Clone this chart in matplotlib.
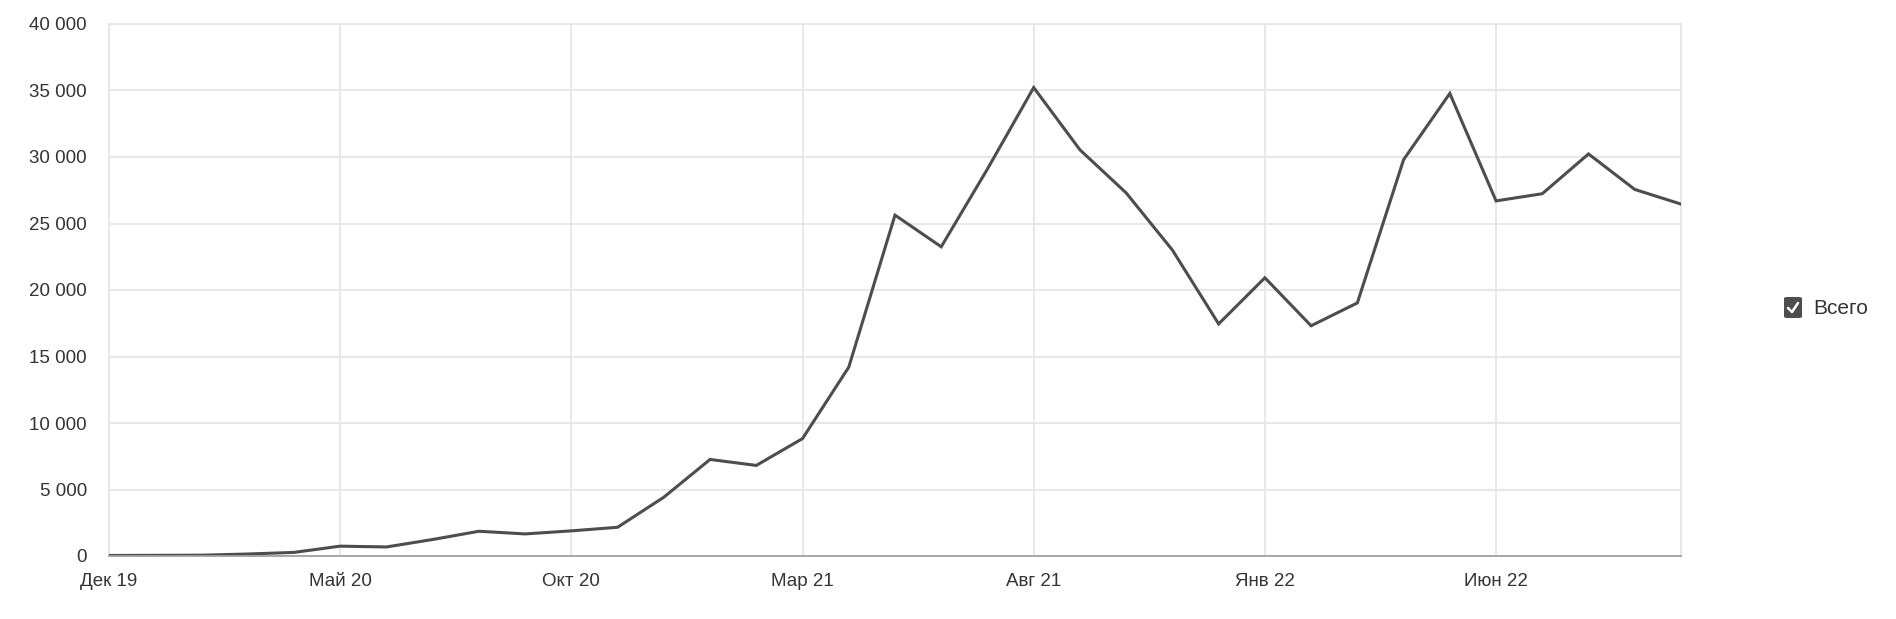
import matplotlib
matplotlib.use("Agg")
import matplotlib.pyplot as plt
from matplotlib.lines import Line2D
from matplotlib.patches import FancyBboxPatch
from matplotlib.ticker import FuncFormatter

# monthly values, Dec 2019 .. Oct 2022
months = [
    "Дек 19", "Янв 20", "Фев 20", "Мар 20", "Апр 20", "Май 20", "Июн 20", "Июл 20",
    "Авг 20", "Сен 20", "Окт 20", "Ноя 20", "Дек 20", "Янв 21", "Фев 21", "Мар 21",
    "Апр 21", "Май 21", "Июн 21", "Июл 21", "Авг 21", "Сен 21", "Окт 21", "Ноя 21",
    "Дек 21", "Янв 22", "Фев 22", "Мар 22", "Апр 22", "Май 22", "Июн 22", "Июл 22",
    "Авг 22", "Сен 22", "Окт 22",
]
totals = [
    40, 50, 60, 150, 270, 740, 680, 1240,
    1860, 1660, 1890, 2160, 4420, 7260, 6810, 8830,
    14200, 25630, 23250, 29100, 35220, 30540, 27300, 23000,
    17450, 20920, 17310, 19030, 29800, 34780, 26700, 27240,
    30230, 27560, 26460,
]
tick_every = 5
series_name = "Всего"

plt.rcParams["font.family"] = ["Liberation Sans", "DejaVu Sans"]

W, H = 1896, 619
fig = plt.figure(figsize=(W / 100, H / 100), dpi=100)
ax = fig.add_axes([109 / W, 1 - 556 / H, (1681 - 109) / W, (556 - 24) / H])

x = list(range(len(totals)))
ax.plot(x, totals, color="#4d4d4d", linewidth=2.2, solid_joinstyle="miter", zorder=3)

ax.set_xlim(0, len(totals) - 1)
ax.set_ylim(0, 40000)
ax.set_yticks(range(0, 40001, 5000))
ax.yaxis.set_major_formatter(FuncFormatter(lambda v, _: f"{int(v):,}".replace(",", " ")))
ticks = x[::tick_every]
ax.set_xticks(ticks)
ax.set_xticklabels([months[i] for i in ticks])

ax.grid(True, color="#e6e6e6", linewidth=1.3, zorder=0)
for s in ax.spines.values():
    s.set_color("#e6e6e6")
    s.set_linewidth(1.3)
ax.spines["bottom"].set_color("#a0a0a0")
ax.spines["bottom"].set_zorder(4)
ax.tick_params(length=0, labelsize=13.5, colors="#333333")
ax.tick_params(axis="y", pad=16)
ax.tick_params(axis="x", pad=12)

# legend with checkbox
bx, by, bw, bh = 1784, 297, 18, 21
box = FancyBboxPatch((bx / W, 1 - (by + bh) / H), bw / W, bh / H,
                     boxstyle="round,pad=0,rounding_size=0.002", transform=fig.transFigure,
                     facecolor="#4d4d4d", edgecolor="none")
fig.patches.append(box)
fig.lines.append(Line2D([(bx + 4) / W, (bx + 8) / W, (bx + 14) / W],
                        [1 - (by + 11) / H, 1 - (by + 15) / H, 1 - (by + 6) / H],
                        transform=fig.transFigure, color="white", linewidth=1.8,
                        solid_capstyle="round", solid_joinstyle="round"))
fig.text(1813 / W, 1 - 308 / H, series_name, color="#333333", fontsize=15,
         ha="left", va="center")

fig.savefig("out.png", dpi=100, facecolor="white")
